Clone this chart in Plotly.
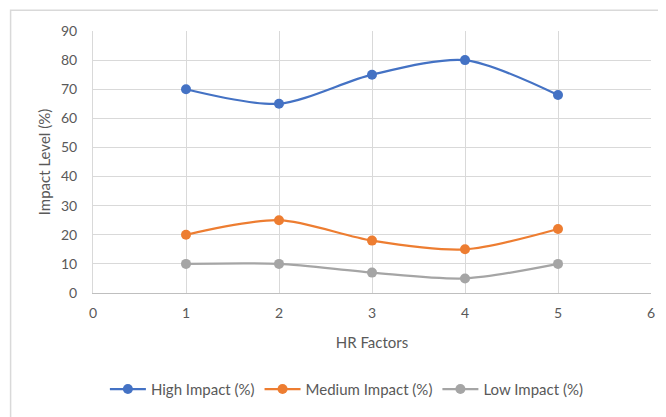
import plotly.graph_objects as go

hr_factors = [1, 2, 3, 4, 5]
high_impact = [70, 65, 75, 80, 68]
medium_impact = [20, 25, 18, 15, 22]
low_impact = [10, 10, 7, 5, 10]

series = [
    ("High Impact (%)", high_impact, "#4472C4"),
    ("Medium Impact (%)", medium_impact, "#ED7D31"),
    ("Low Impact (%)", low_impact, "#A5A5A5"),
]

fig = go.Figure()
for name, vals, col in series:
    fig.add_trace(go.Scatter(
        x=hr_factors, y=vals, name=name, mode="lines+markers",
        line=dict(color=col, width=2.25, shape="spline", smoothing=0.8),
        marker=dict(color=col, size=10),
    ))

font_family = "Lato, Open Sans, sans-serif"
L, T, W, H = 85, 23, 562, 264
fig.update_layout(
    width=658, height=409,
    margin=dict(l=L, r=658 - L - W, t=T, b=409 - T - H),
    paper_bgcolor="white", plot_bgcolor="white",
    font=dict(family=font_family, size=14, color="#595959"),
    showlegend=True,
    legend=dict(orientation="h", x=0.455, xanchor="center", y=(T + H - 384) / H, yanchor="middle",
                font=dict(size=15, color="#595959"), itemwidth=36, tracegroupgap=0),
    xaxis=dict(range=[0, 6], dtick=1, tick0=0, showgrid=True, gridcolor="#D9D9D9", gridwidth=1,
               zeroline=False, showline=True, linecolor="#BFBFBF", linewidth=1,
               ticks="", ticklabelstandoff=7,
               title=dict(text="HR Factors", font=dict(size=15, color="#595959"), standoff=17),
               tickfont=dict(size=14, color="#595959")),
    yaxis=dict(range=[0, 90], dtick=10, showgrid=True, gridcolor="#D9D9D9", gridwidth=1,
               zeroline=False, showline=True, linecolor="#D9D9D9", ticks="",
               ticklabelstandoff=12,
               title=dict(text="Impact Level (%)", font=dict(size=15, color="#595959"), standoff=6),
               tickfont=dict(size=14, color="#595959")),
    shapes=[dict(type="rect", xref="paper", yref="paper",
                 x0=(2 - L) / W, x1=(720 - L) / W,
                 y0=(T + H - 460) / H, y1=(T + H - 2) / H,
                 line=dict(color="#D9D9D9", width=1.5), fillcolor="rgba(0,0,0,0)", layer="below")],
)

fig.write_html("out.html")
